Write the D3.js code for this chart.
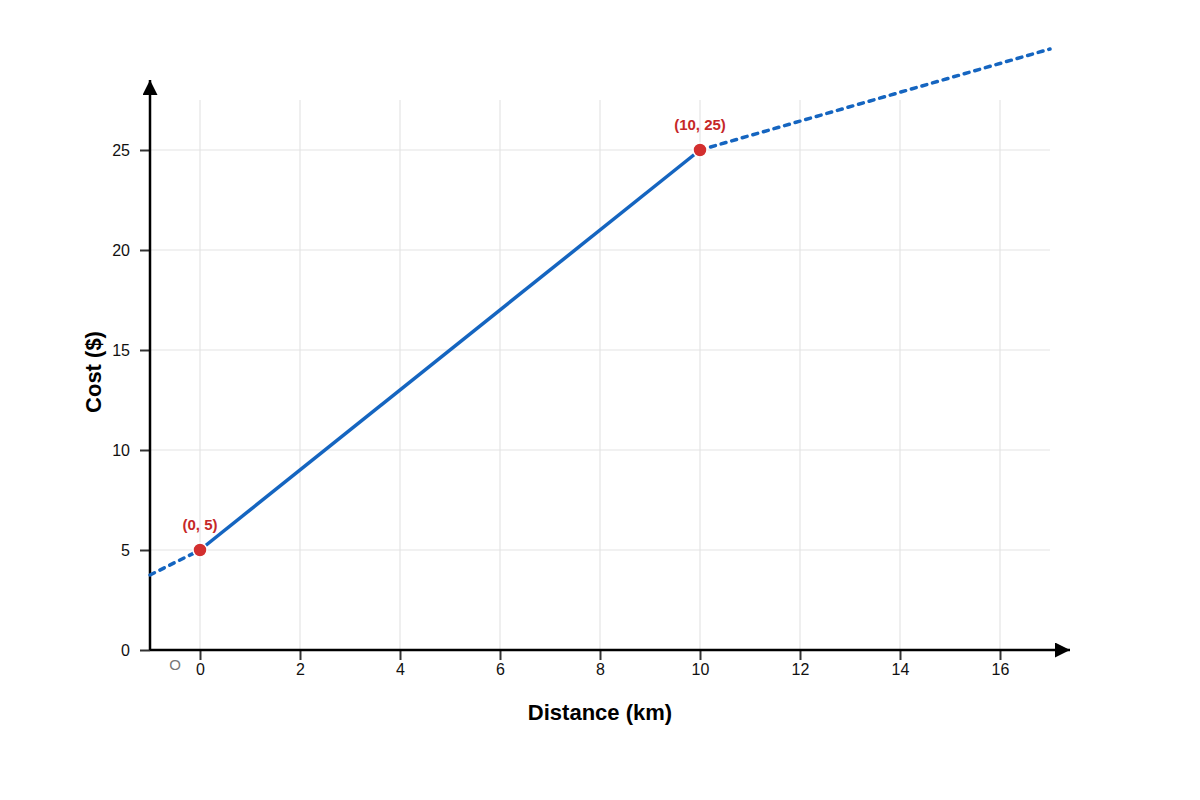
<!DOCTYPE html>
<html>
<head>
<meta charset="utf-8">
<script src="https://cdn.jsdelivr.net/npm/d3@7"></script>
<style>
  body { margin: 0; background: #fff; }
  svg { font-family: "Liberation Sans", Arial, sans-serif; }
</style>
</head>
<body>
<div id="chart"></div>
<script>
// data
const xTicks = [0, 2, 4, 6, 8, 10, 12, 14, 16];
const yTicks = [0, 5, 10, 15, 20, 25];
const leftSegment = [[-1, 3.75], [0, 5]];
const midSegment = [[0, 5], [10, 25]];
const rightSegment = [[10, 25], [17, 30.05]];
const keyPoints = [[0, 5], [10, 25]];
const pointLabels = ['(0, 5)', '(10, 25)'];

const width = 1200, height = 800;

const svg = d3.select('#chart').append('svg')
    .attr('width', width)
    .attr('height', height);

const x = d3.scaleLinear().domain([-1, 17]).range([150, 1050]);
const y = d3.scaleLinear().domain([0, 25]).range([650, 150]);

// arrow markers
const defs = svg.append('defs');
defs.append('marker')
    .attr('id', 'arrow')
    .attr('viewBox', '0 0 10 10')
    .attr('refX', 10).attr('refY', 5)
    .attr('markerWidth', 15).attr('markerHeight', 15)
    .attr('markerUnits', 'userSpaceOnUse')
    .attr('orient', 'auto')
    .append('path')
    .attr('d', 'M0,0 L10,5 L0,10 Z')
    .attr('fill', '#000');

// grid
const gridTop = y(27.5);
svg.append('g').selectAll('line').data(xTicks).join('line')
    .attr('x1', d => x(d)).attr('x2', d => x(d))
    .attr('y1', gridTop).attr('y2', y(0))
    .attr('stroke', '#e4e4e4').attr('stroke-width', 1.2);
svg.append('g').selectAll('line').data(yTicks.filter(d => d > 0)).join('line')
    .attr('x1', x(-1)).attr('x2', x(17))
    .attr('y1', d => y(d)).attr('y2', d => y(d))
    .attr('stroke', '#e4e4e4').attr('stroke-width', 1.2);

// axes
const xAxis = d3.axisBottom(x).tickValues(xTicks).tickSize(10).tickPadding(4);
const yAxis = d3.axisLeft(y).tickValues(yTicks).tickSize(10).tickPadding(10);

const gx = svg.append('g').attr('transform', `translate(0,${y(0)})`).call(xAxis);
const gy = svg.append('g').attr('transform', `translate(${x(-1)},0)`).call(yAxis);
[gx, gy].forEach(g => {
    g.select('.domain').remove();
    g.selectAll('.tick line').attr('stroke', '#333').attr('stroke-width', 2);
    g.selectAll('.tick text').attr('fill', '#111')
        .style('font-family', '"Liberation Sans", Arial, sans-serif')
        .style('font-size', '16px');
});

svg.append('line')
    .attr('x1', x(-1)).attr('y1', y(0))
    .attr('x2', x(17.4)).attr('y2', y(0))
    .attr('stroke', '#000').attr('stroke-width', 2.5)
    .attr('marker-end', 'url(#arrow)');
svg.append('line')
    .attr('x1', x(-1)).attr('y1', y(0))
    .attr('x2', x(-1)).attr('y2', y(28.5))
    .attr('stroke', '#000').attr('stroke-width', 2.5)
    .attr('marker-end', 'url(#arrow)');

// origin label
svg.append('text')
    .attr('x', x(-0.5)).attr('y', y(0) + 20)
    .attr('text-anchor', 'middle')
    .attr('fill', '#777')
    .style('font-size', '15px')
    .text('O');

// axis titles
svg.append('text')
    .attr('x', x(8)).attr('y', 720)
    .attr('text-anchor', 'middle')
    .style('font-size', '22px').style('font-weight', 'bold')
    .text('Distance (km)');
svg.append('text')
    .attr('transform', `translate(101,${y(13.9)}) rotate(-90)`)
    .attr('text-anchor', 'middle')
    .style('font-size', '22px').style('font-weight', 'bold')
    .text('Cost ($)');

// lines
const line = d3.line().x(d => x(d[0])).y(d => y(d[1]));
const lineColor = '#1565c0';
svg.append('path').datum(leftSegment).attr('d', line)
    .attr('fill', 'none').attr('stroke', lineColor).attr('stroke-width', 3.5)
    .attr('stroke-linecap', 'round')
    .attr('stroke-dasharray', '5,6');
svg.append('path').datum(midSegment).attr('d', line)
    .attr('fill', 'none').attr('stroke', lineColor).attr('stroke-width', 3.5);
svg.append('path').datum(rightSegment).attr('d', line)
    .attr('fill', 'none').attr('stroke', lineColor).attr('stroke-width', 3.5)
    .attr('stroke-linecap', 'round')
    .attr('stroke-dasharray', '5,6');

// key points
svg.append('g').selectAll('circle').data(keyPoints).join('circle')
    .attr('cx', d => x(d[0])).attr('cy', d => y(d[1]))
    .attr('r', 7)
    .attr('fill', '#d32f2f')
    .attr('stroke', '#fff').attr('stroke-width', 1.5);

svg.append('g').selectAll('text').data(keyPoints).join('text')
    .attr('x', d => x(d[0])).attr('y', d => y(d[1]) - 20)
    .attr('text-anchor', 'middle')
    .attr('fill', '#c62828')
    .style('font-size', '15px').style('font-weight', 'bold')
    .text((d, i) => pointLabels[i]);
</script>
</body>
</html>
